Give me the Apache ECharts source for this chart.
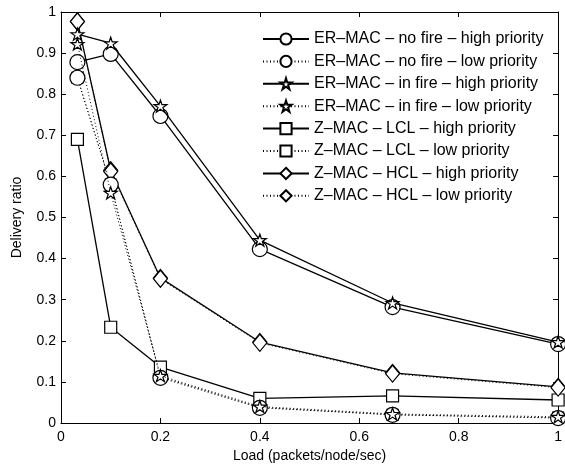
<!DOCTYPE html>
<html>
<head>
<meta charset="utf-8">
<script src="https://cdn.jsdelivr.net/npm/echarts@6/dist/echarts.min.js"></script>
<style>
  html, body { margin: 0; padding: 0; background: #fff; }
  #chart { width: 565px; height: 468px; }
</style>
</head>
<body>
<div id="chart"></div>
<script>
// load values (packets/node/sec)
const loads = [0.033, 0.1, 0.2, 0.4, 0.667, 1];

// delivery ratio per series
const erNoFireHigh = [0.878, 0.898, 0.747, 0.423, 0.282, 0.192];
const erNoFireLow  = [0.840, 0.580, 0.110, 0.037, 0.020, 0.012];
const erInFireHigh = [0.946, 0.924, 0.771, 0.445, 0.292, 0.197];
const erInFireLow  = [0.922, 0.560, 0.115, 0.040, 0.022, 0.015];
const zLclHigh     = [0.690, 0.233, 0.136, 0.060, 0.066, 0.056];
const zLclLow      = [0.840, 0.580, 0.112, 0.038, 0.020, 0.013];
const zHclHigh     = [0.977, 0.615, 0.353, 0.197, 0.122, 0.088];
const zHclLow      = [0.977, 0.612, 0.351, 0.195, 0.120, 0.086];

const names = [
  'ER–MAC – no fire – high priority',
  'ER–MAC – no fire – low priority',
  'ER–MAC – in fire – high priority',
  'ER–MAC – in fire – low priority',
  'Z–MAC – LCL – high priority',
  'Z–MAC – LCL – low priority',
  'Z–MAC – HCL – high priority',
  'Z–MAC – HCL – low priority'
];

const star = 'path://M50,0 L61.2,34.5 L97.6,34.5 L68.2,55.9 L79.4,90.5 L50,69.1 L20.6,90.5 L31.8,55.9 L2.4,34.5 L38.8,34.5 Z';

function pts(vals) {
  return loads.map((x, i) => [x, vals[i]]);
}

function mk(name, vals, symbol, size, dotted, z) {
  return {
    name: name,
    type: 'line',
    data: pts(vals),
    symbol: symbol,
    symbolSize: size,
    showAllSymbol: true,
    z: z,
    lineStyle: { color: '#000', width: dotted ? 1 : 1.3, type: dotted ? [1, 2.5] : 'solid' },
    itemStyle: { color: '#fff', borderColor: '#000', borderWidth: 1.2 },
    emphasis: { disabled: true }
  };
}

const series = [
  mk(names[5], zLclLow, 'rect', 11, true, 1),
  mk(names[0], erNoFireHigh, 'circle', 15, false, 3),
  mk(names[1], erNoFireLow, 'circle', 15, true, 3),
  mk(names[2], erInFireHigh, star, [13, 12], false, 4),
  mk(names[3], erInFireLow, star, [13, 12], true, 4),
  mk(names[4], zLclHigh, 'rect', 12, false, 2),
  mk(names[6], zHclHigh, 'diamond', [14, 17], false, 2),
  mk(names[7], zHclLow, 'diamond', [14, 17], true, 2)
];

const chart = echarts.init(document.getElementById('chart'), null, { renderer: 'canvas' });

const font = 'Liberation Sans, Arial, Helvetica, sans-serif';
const axisCommon = {
  min: 0,
  max: 1,
  splitLine: { show: false },
  axisLine: { show: true, onZero: false, lineStyle: { color: '#000', width: 1 } },
  axisTick: { show: true, inside: true, length: 5, lineStyle: { color: '#000' } }
};

chart.setOption({
  animation: false,
  backgroundColor: '#fff',
  textStyle: { fontFamily: font },
  grid: { left: 61, right: 4, top: 12, bottom: 45, containLabel: false },
  legend: {
    data: names,
    orient: 'vertical',
    left: 262,
    top: 31,
    itemWidth: 46,
    itemHeight: 14,
    itemGap: 6.4,
    padding: 0,
    textStyle: { fontSize: 16, lineHeight: 14, color: '#000', fontFamily: font },
    selectedMode: false
  },
  xAxis: [
    Object.assign({}, axisCommon, {
      type: 'value',
      interval: 0.2,
      position: 'bottom',
      name: 'Load (packets/node/sec)',
      nameLocation: 'middle',
      nameGap: 24,
      nameTextStyle: { fontSize: 14, color: '#000' },
      axisLabel: { fontSize: 14, color: '#000', margin: 7 }
    }),
    Object.assign({}, axisCommon, {
      type: 'value',
      interval: 0.2,
      position: 'top',
      axisLabel: { show: false }
    })
  ],
  yAxis: [
    Object.assign({}, axisCommon, {
      type: 'value',
      interval: 0.1,
      position: 'left',
      name: 'Delivery ratio',
      nameLocation: 'middle',
      nameGap: 37,
      nameTextStyle: { fontSize: 14, color: '#000' },
      axisLabel: { fontSize: 14, color: '#000', margin: 5 }
    }),
    Object.assign({}, axisCommon, {
      type: 'value',
      interval: 0.1,
      position: 'right',
      axisLabel: { show: false }
    })
  ],
  series: series
});
</script>
</body>
</html>
